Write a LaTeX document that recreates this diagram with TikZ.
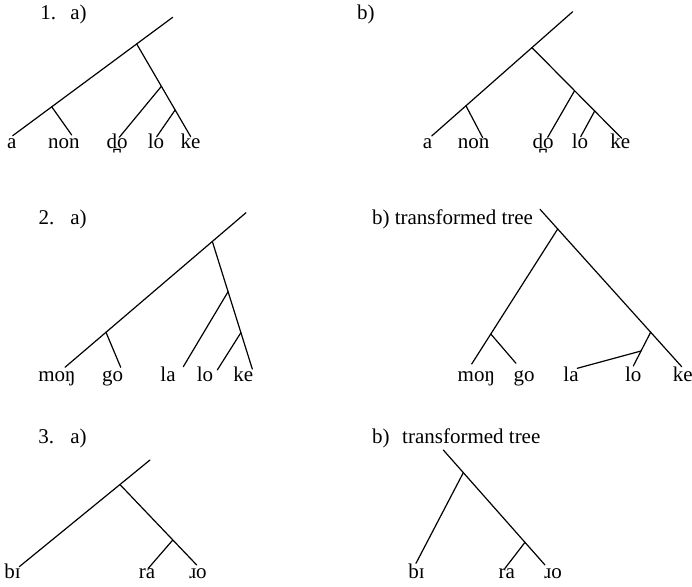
\documentclass[tikz,border=0pt]{standalone}
\usepackage{fontspec}
\setmainfont{Liberation Serif}
\usetikzlibrary{calc}
\tikzset{
    % branches of the trees
    branch/.style={line width=0.6pt, line cap=round},
    % words under the trees
    leaf/.style={anchor=base, inner sep=0pt, font=\fontsize{10.5}{12}\selectfont},
    % numbers and headings
    head/.style={anchor=base west, inner sep=0pt, font=\fontsize{10.5}{12}\selectfont},
}
\begin{document}
\begin{tikzpicture}[x=0.5pt, y=-0.5pt]
\useasboundingbox (0,0) rectangle (692,587);

% ---------- 1. a)
\node[head] (n1) at (40,20) {1.};
\node[head] (h1a) at (70,20) {a)};
\coordinate (a1l) at (12.7,135.7);
\coordinate (a1t) at (172.7,17.3);
\coordinate (a1r) at ($(a1l)!0.775!(a1t)$);
\coordinate (a1j) at ($(a1l)!0.244!(a1t)$);
\coordinate (a1ke) at (190.7,136.7);
\coordinate (a1k) at ($(a1r)!0.457!(a1ke)$);
\coordinate (a1m) at ($(a1r)!0.712!(a1ke)$);
\coordinate (a1non) at (71.7,135);
\coordinate (a1do) at (119.3,137.3);
\coordinate (a1lo) at (156.7,136.7);
\draw[branch] (a1l) -- (a1t);
\draw[branch] (a1j) -- (a1non);
\draw[branch] (a1r) -- (a1ke);
\draw[branch] (a1k) -- (a1do);
\draw[branch] (a1m) -- (a1lo);
\node[leaf] (w1a) at (11.7,148.5) {a};
\node[leaf] (w1non) at (64,148.5) {non};
\node[leaf] (w1do) at (117,148.5) {d̪o};
\node[leaf] (w1lo) at (156,148.5) {lo};
\node[leaf] (w1ke) at (190.5,148.5) {ke};

% ---------- 1. b)
\node[head] (h1b) at (356.7,20) {b)};
\coordinate (b1l) at (431.7,136);
\coordinate (b1t) at (572.7,11.7);
\coordinate (b1r) at ($(b1l)!0.711!(b1t)$);
\coordinate (b1j) at ($(b1l)!0.243!(b1t)$);
\coordinate (b1ke) at (621.7,138.3);
\coordinate (b1k) at ($(b1r)!0.475!(b1ke)$);
\coordinate (b1m) at ($(b1r)!0.699!(b1ke)$);
\coordinate (b1non) at (482.7,137.7);
\coordinate (b1do) at (547.7,137.3);
\coordinate (b1lo) at (580.7,136.7);
\draw[branch] (b1l) -- (b1t);
\draw[branch] (b1j) -- (b1non);
\draw[branch] (b1r) -- (b1ke);
\draw[branch] (b1k) -- (b1do);
\draw[branch] (b1m) -- (b1lo);
\node[leaf] (v1a) at (427.5,148.5) {a};
\node[leaf] (v1non) at (473.5,148.5) {non};
\node[leaf] (v1do) at (543,148.5) {d̪o};
\node[leaf] (v1lo) at (580,148.5) {lo};
\node[leaf] (v1ke) at (620.3,148.5) {ke};

% ---------- 2. a)
\node[head] (n2) at (38.3,225) {2.};
\node[head] (h2a) at (70,225) {a)};
\coordinate (a2l) at (65,367.3);
\coordinate (a2t) at (246,212.7);
\coordinate (a2r) at ($(a2l)!0.814!(a2t)$);
\coordinate (a2j) at ($(a2l)!0.2265!(a2t)$);
\coordinate (a2ke) at (252.3,369);
\coordinate (a2k) at ($(a2r)!0.394!(a2ke)$);
\coordinate (a2m) at ($(a2r)!0.715!(a2ke)$);
\coordinate (a2go) at (120.7,367.3);
\coordinate (a2la) at (183.3,366.7);
\coordinate (a2lo) at (217.3,370);
\draw[branch] (a2l) -- (a2t);
\draw[branch] (a2j) -- (a2go);
\draw[branch] (a2r) -- (a2ke);
\draw[branch] (a2k) -- (a2la);
\draw[branch] (a2m) -- (a2lo);
\node[leaf] (w2mon) at (57,381.7) {moŋ};
\node[leaf] (w2go) at (112.7,381.7) {go};
\node[leaf] (w2la) at (168,381.7) {la};
\node[leaf] (w2lo) at (205,381.7) {lo};
\node[leaf] (w2ke) at (243.3,381.7) {ke};

% ---------- 2. b) transformed tree
\node[head] (h2b) at (371.7,225) {b) transformed tree};
\coordinate (b2t) at (540,209.3);
\coordinate (b2ke) at (681.7,366.7);
\coordinate (b2r) at ($(b2t)!0.125!(b2ke)$);
\coordinate (b2m) at ($(b2t)!0.781!(b2ke)$);
\coordinate (b2mon) at (471.7,364);
\coordinate (b2j) at ($(b2r)!0.778!(b2mon)$);
\coordinate (b2go) at (516,363.3);
\coordinate (b2lo) at (633.3,366);
\coordinate (b2k) at ($(b2m)!0.556!(b2lo)$);
\coordinate (b2la) at (577.3,368.3);
\draw[branch] (b2t) -- (b2ke);
\draw[branch] (b2r) -- (b2mon);
\draw[branch] (b2j) -- (b2go);
\draw[branch] (b2m) -- (b2lo);
\draw[branch] (b2k) -- (b2la);
\node[leaf] (v2mon) at (476.3,381.7) {moŋ};
\node[leaf] (v2go) at (524,381.7) {go};
\node[leaf] (v2la) at (571,381.7) {la};
\node[leaf] (v2lo) at (633.3,381.7) {lo};
\node[leaf] (v2ke) at (682.7,381.7) {ke};

% ---------- 3. a)
\node[head] (n3) at (38,444) {3.};
\node[head] (h3a) at (70,444) {a)};
\coordinate (a3l) at (19.3,566.7);
\coordinate (a3t) at (150,460);
\coordinate (a3r) at ($(a3l)!0.77!(a3t)$);
\coordinate (a3jo) at (196.7,565);
\coordinate (a3k) at ($(a3r)!0.689!(a3jo)$);
\coordinate (a3ra) at (148.3,568.3);
\draw[branch] (a3l) -- (a3t);
\draw[branch] (a3r) -- (a3jo);
\draw[branch] (a3k) -- (a3ra);
\node[leaf] (w3bi) at (12.5,579) {bɪ};
\node[leaf] (w3ra) at (147,579) {ra};
\node[leaf] (w3jo) at (198,579) {ɹo};

% ---------- 3. b) transformed tree
\node[head] (h3b) at (371.7,444) {b)\hspace{0.6em}transformed tree};
\coordinate (b3t) at (443.3,450);
\coordinate (b3jo) at (545,565);
\coordinate (b3r) at ($(b3t)!0.197!(b3jo)$);
\coordinate (b3k) at ($(b3t)!0.803!(b3jo)$);
\coordinate (b3bi) at (416,563.3);
\coordinate (b3ra) at (505,568.3);
\draw[branch] (b3t) -- (b3jo);
\draw[branch] (b3r) -- (b3bi);
\draw[branch] (b3k) -- (b3ra);
\node[leaf] (v3bi) at (416.5,579) {bɪ};
\node[leaf] (v3ra) at (506.7,579) {ra};
\node[leaf] (v3jo) at (553,579) {ɹo};
\end{tikzpicture}
\end{document}
